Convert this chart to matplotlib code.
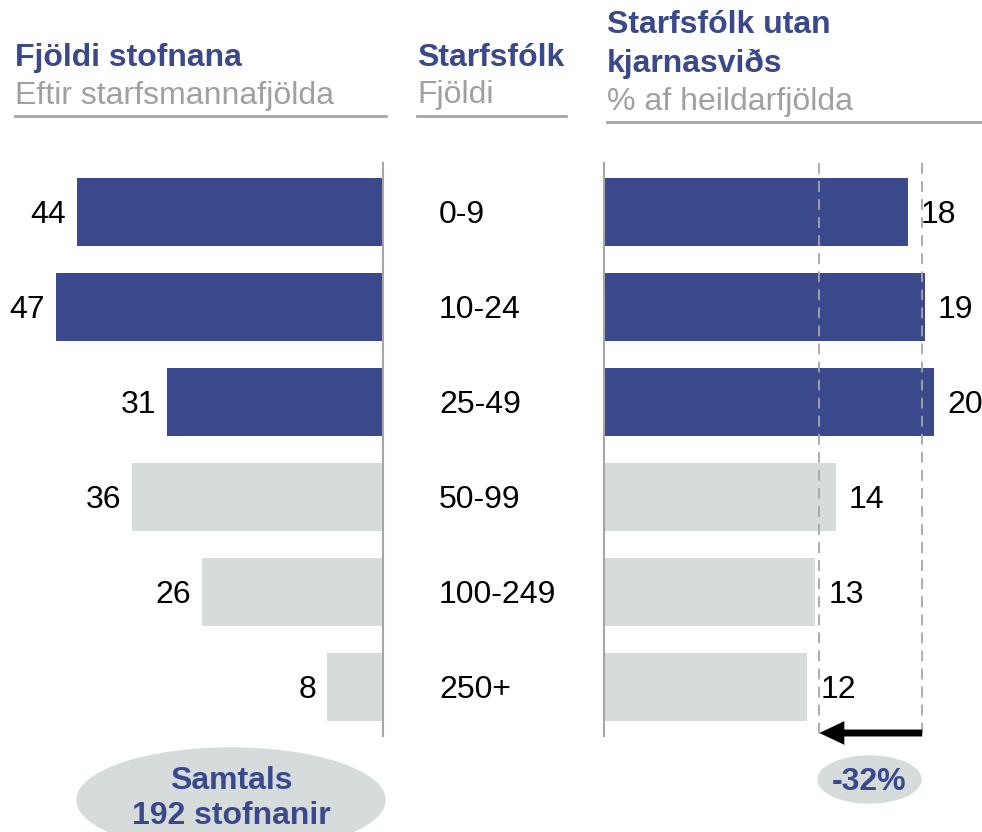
import numpy as np
import matplotlib.pyplot as plt
from matplotlib.patches import Ellipse
from matplotlib.lines import Line2D

# data
size_groups = ['0-9', '10-24', '25-49', '50-99', '100-249', '250+']
n_institutions = [44, 47, 31, 36, 26, 8]
noncore_share = [18.4, 19.45, 20.0, 14.05, 12.8, 12.3]
highlight = [True, True, True, False, False, False]

BLUE = '#3A488C'
LIGHT = '#D6DCDC'
GREY_TXT = '#A0A0A0'
GREY_LN = '#A6A6A6'

plt.rcParams['font.family'] = ['Liberation Sans', 'DejaVu Sans']
FS = 23
DY = -2  # nudge number labels down so digits sit centred on the bars

W, H = 982, 832
fig = plt.figure(figsize=(W / 100, H / 100), dpi=100)
fig.patch.set_facecolor('white')


def fx(px):
    return px / W


def fy(py):
    return 1 - py / H


def axes_px(x0, x1, y0, y1):
    return fig.add_axes([fx(x0), fy(y1), fx(x1) - fx(x0), fy(y0) - fy(y1)])


TOP, BOT = 163, 736
ylim = ((BOT - 212) / 95, (TOP - 212) / 95)
ypos = np.arange(len(size_groups))
colors = [BLUE if h else LIGHT for h in highlight]

# left panel: number of institutions
axl = axes_px(0, 383, TOP, BOT)
axl.barh(ypos, n_institutions, height=0.716, color=colors)
axl.set_xlim(383 / 6.96, 0)
axl.set_ylim(*ylim)
for y, v in zip(ypos, n_institutions):
    axl.annotate(f'{v}', xy=(v, y), xytext=(-8, DY), textcoords='offset points',
                 ha='right', va='center', fontsize=FS, color='black')

# middle panel: size groups
axm = axes_px(417, 566, TOP, BOT)
axm.set_ylim(*ylim)
for y, lab in zip(ypos, size_groups):
    axm.annotate(lab, xy=((439 - 417) / 149, y), xycoords=axm.get_yaxis_transform(),
                 xytext=(0, DY), textcoords='offset points',
                 ha='left', va='center', fontsize=FS, color='black')

# right panel: share of non-core staff
axr = axes_px(604, 982, TOP, BOT)
axr.barh(ypos, noncore_share, height=0.716, color=colors)
axr.set_xlim(0, 378 / 16.5)
axr.set_ylim(*ylim)
for y, v in zip(ypos, noncore_share):
    axr.annotate(f'{v:.0f}', xy=(v, y), xytext=(9.5, DY), textcoords='offset points',
                 ha='left', va='center', fontsize=FS, color='black')

hi_avg = np.mean([v for v, h in zip(noncore_share, highlight) if h])
lo_avg = np.mean([v for v, h in zip(noncore_share, highlight) if not h])
arrow_y = (733 - 212) / 95
for xv in (lo_avg, hi_avg):
    axr.plot([xv, xv], [ylim[1], arrow_y + 0.04], color=GREY_LN, lw=1.3,
             dashes=(6, 4), zorder=1)
axr.annotate('', xy=(lo_avg, arrow_y), xytext=(hi_avg, arrow_y),
             arrowprops=dict(arrowstyle='simple,head_length=18,head_width=17,tail_width=5',
                             mutation_scale=1, color='black', lw=0,
                             shrinkA=0, shrinkB=0))
change = (lo_avg / hi_avg - 1) * 100

for ax in (axl, axm, axr):
    ax.set_xticks([])
    ax.set_yticks([])
    for s in ax.spines.values():
        s.set_visible(False)
    ax.patch.set_alpha(0)
axl.spines['right'].set_visible(True)
axl.spines['right'].set_color(GREY_LN)
axl.spines['right'].set_linewidth(1.5)
axr.spines['left'].set_visible(True)
axr.spines['left'].set_color(GREY_LN)
axr.spines['left'].set_linewidth(1.5)

# headers
fig.text(fx(15), fy(66), 'Fjöldi stofnana', fontsize=FS, weight='bold', color=BLUE, va='baseline')
fig.text(fx(15), fy(104), 'Eftir starfsmannafjölda', fontsize=FS, color=GREY_TXT, va='baseline')
fig.text(fx(417), fy(66), 'Starfsfólk', fontsize=FS, weight='bold', color=BLUE, va='baseline')
fig.text(fx(417), fy(103), 'Fjöldi', fontsize=FS, color=GREY_TXT, va='baseline')
fig.text(fx(607), fy(33), 'Starfsfólk utan', fontsize=FS, weight='bold', color=BLUE, va='baseline')
fig.text(fx(607), fy(72), 'kjarnasviðs', fontsize=FS, weight='bold', color=BLUE, va='baseline')
fig.text(fx(607), fy(110), '% af heildarfjölda', fontsize=FS, color=GREY_TXT, va='baseline')

for x0, x1, y in [(15, 386, 116), (417, 566, 116), (607, 982, 122)]:
    fig.add_artist(Line2D([fx(x0), fx(x1)], [fy(y), fy(y)], color=GREY_LN, lw=2))

# totals
fig.add_artist(Ellipse((fx(231), fy(800)), fx(308), 104 / H,
                       transform=fig.transFigure, color=LIGHT, zorder=0))
fig.text(fx(231), fy(789), 'Samtals', fontsize=FS, weight='bold', color=BLUE,
         ha='center', va='baseline')
fig.text(fx(231), fy(824), f'{sum(n_institutions)} stofnanir', fontsize=FS, weight='bold',
         color=BLUE, ha='center', va='baseline')

fig.add_artist(Ellipse((fx(869.5), fy(779.5)), fx(103), 47 / H,
                       transform=fig.transFigure, color=LIGHT, zorder=0))
fig.text(fx(869.5), fy(782), f'{change:.0f}%', fontsize=FS, weight='bold', color=BLUE,
         ha='center', va='center')

fig.savefig('out.png', dpi=100, facecolor='white')
